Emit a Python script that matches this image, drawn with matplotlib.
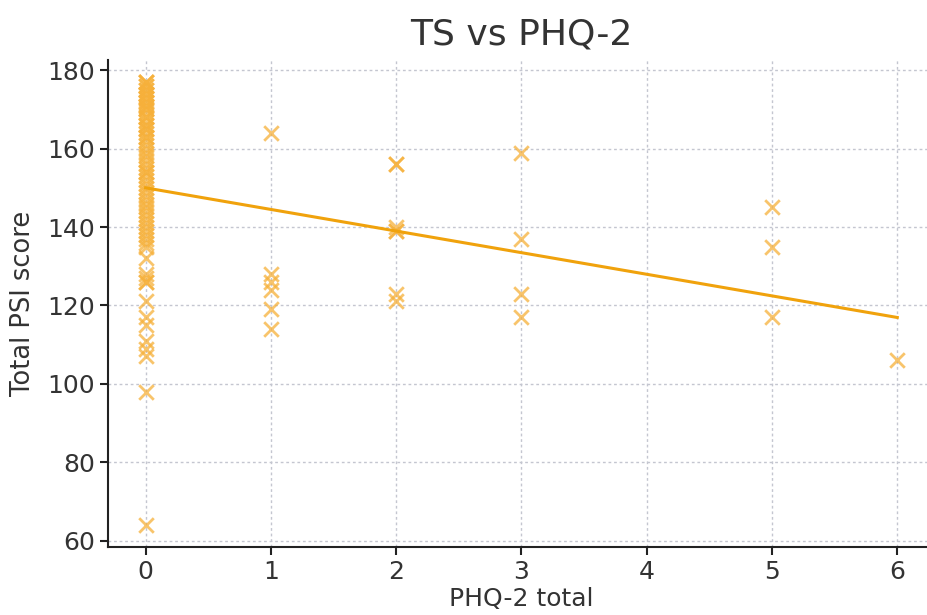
import numpy as np
import matplotlib
matplotlib.use("Agg")
import matplotlib.pyplot as plt

# PHQ-2 total (x) and Total PSI score (y)
phq0_psi = [177, 177, 177, 176, 176, 175, 175, 174, 174, 173, 173, 172, 172,
            171, 171, 170, 170, 169, 168, 168, 167, 166, 166, 165, 165, 164,
            163, 163, 162, 161, 160, 159, 158, 157, 156, 155, 154, 154, 153,
            152, 151, 150, 149, 148, 147, 146, 145, 144, 143, 142, 141, 140,
            139, 138, 137, 136, 135, 132, 128, 127, 126, 126, 121, 117, 115,
            111, 109, 107, 98, 64]
phq1_psi = [164, 128, 126, 124, 119, 114]
phq2_psi = [156, 156, 140, 139, 139, 123, 121]
phq3_psi = [159, 137, 123, 117]
phq5_psi = [145, 135, 117]
phq6_psi = [106]

groups = [(0, phq0_psi), (1, phq1_psi), (2, phq2_psi), (3, phq3_psi),
          (5, phq5_psi), (6, phq6_psi)]
x = np.concatenate([[g] * len(v) for g, v in groups]).astype(float)
y = np.concatenate([v for g, v in groups]).astype(float)

slope, icpt = np.polyfit(x, y, 1)
xs = np.array([x.min(), x.max()])

fig = plt.figure(figsize=(9.28, 6.15), dpi=100)
ax = fig.add_axes([0.1164, 0.1106, 0.891, 0.792])

ax.scatter(x, y, marker="x", s=110, linewidths=2, color="#f6b03a", alpha=0.75, zorder=3)
ax.plot(xs, icpt + slope * xs, color="#f0a20c", lw=2.2, zorder=4)

ax.set_title("TS vs PHQ-2", fontsize=26, color="#333333", pad=11)
ax.set_xlabel("PHQ-2 total", fontsize=18, color="#333333", labelpad=2)
ax.set_ylabel("Total PSI score", fontsize=18.5, color="#333333", labelpad=8)
ax.set_xticks([0, 1, 2, 3, 4, 5, 6])
ax.set_yticks([60, 80, 100, 120, 140, 160, 180])
ax.tick_params(labelsize=18, length=6, width=1.5, colors="#222222", labelcolor="#333333")
ax.grid(True, linestyle=(0, (2, 2)), color="#c4c6d0", lw=1)
ax.set_axisbelow(True)
for s in ["top", "right"]:
    ax.spines[s].set_visible(False)
for s in ["left", "bottom"]:
    ax.spines[s].set_linewidth(1.5)
    ax.spines[s].set_color("#222222")

fig.savefig("out.png", dpi=100)
